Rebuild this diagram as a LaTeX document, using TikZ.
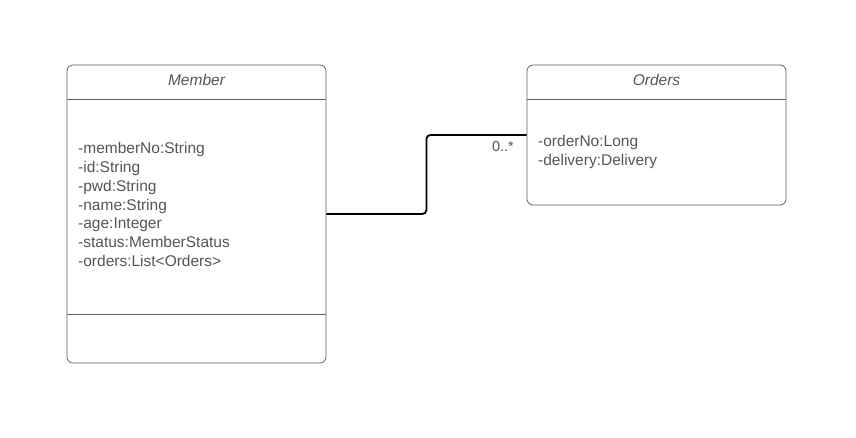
\documentclass[tikz,border=0pt]{standalone}
\usepackage{fontspec}
\setmainfont{Liberation Sans}
\definecolor{txt}{HTML}{555555}
\definecolor{edge}{HTML}{606060}
\begin{document}
\begin{tikzpicture}[x=1pt,y=-1pt,
  classbox/.style={draw=edge,line width=0.8pt,rounded corners=6pt,inner sep=0pt,minimum width=259pt},
  title/.style={font=\fontsize{15.5}{17}\selectfont\itshape,text=txt},
  attr/.style={font=\fontsize{15.5}{18.7}\selectfont,text=txt,align=left,anchor=north west,inner sep=0pt},
  sep/.style={draw=edge,line width=0.8pt},
  assoc/.style={draw=black,line width=1.8pt,rounded corners=4pt}]
\useasboundingbox (0,0) rectangle (856,438);
\node[classbox,minimum height=298pt] (member) at (196.5,214) {};
\node[classbox,minimum height=140pt] (orders) at (656.5,135) {};
\node[title] (mt) at (196.5,80) {Member};
\node[title] (ot) at (656.5,80) {Orders};
\draw[sep] (member.west |- 0,99) coordinate (m1) -- (member.east |- 0,99) coordinate (m2);
\draw[sep] (member.west |- 0,314) coordinate (m3) -- (member.east |- 0,314) coordinate (m4);
\draw[sep] (orders.west |- 0,99) coordinate (o1) -- (orders.east |- 0,99) coordinate (o2);
\node[attr] (ma) at (78,142.5) {-memberNo:String\\-id:String\\-pwd:String\\-name:String\\-age:Integer\\-status:MemberStatus\\-orders:List<Orders>};
\node[attr] (oa) at (538,135.5) {-orderNo:Long\\-delivery:Delivery};
\draw[assoc] (member.east) -- ++(100,0) |- (orders.west);
\node[font=\fontsize{14.5}{16}\selectfont,text=txt,anchor=east,inner sep=0pt] (mult) at (514,147) {0..*};
\end{tikzpicture}
\end{document}
